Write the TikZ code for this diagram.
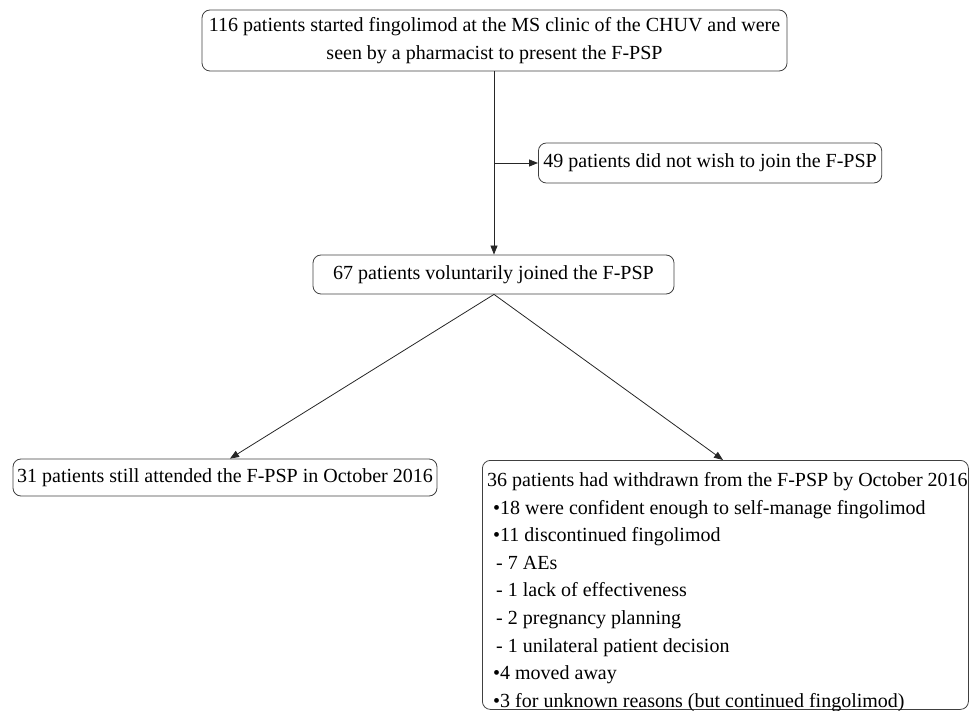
\documentclass[tikz,border=0pt]{standalone}
\usepackage{fontspec}
\setmainfont{Liberation Serif}
\usetikzlibrary{arrows.meta}
\begin{document}
\begin{tikzpicture}[x=1pt,y=1pt,
  box/.style={draw=black!75, line width=0.8pt, rounded corners=8pt, inner sep=0pt},
  txt/.style={font=\fontsize{20}{27.6}\selectfont, text=black},
  conn/.style={draw=black!85, line width=0.8pt, -{Triangle[length=9pt,width=7pt]}},
  plainline/.style={draw=black!85, line width=0.8pt}]
\useasboundingbox (0,0) rectangle (976,710);
% top box
\node[box, txt, minimum width=585pt, minimum height=61pt, align=center] (top) at (494.5,669.5)
  {116 patients started fingolimod at the MS clinic of the CHUV and were\\seen by a pharmacist to present the F-PSP};
% side box
\node[box, txt, anchor=west, minimum height=40pt, inner xsep=5pt] (side) at (538,547)
  {49 patients did not wish to join the F-PSP};
% middle box
\node[box, txt, minimum width=361pt, minimum height=39pt] (mid) at (493.5,435.5)
  {67 patients voluntarily joined the F-PSP};
% bottom left box
\node[box, txt, minimum width=424pt, minimum height=37pt] (left) at (225,232.5)
  {31 patients still attended the F-PSP in October 2016};
% bottom right box
\node[box, anchor=north west, minimum width=486pt, minimum height=249pt] (right) at (482,250) {};
\node[txt, anchor=north west, inner sep=0pt, align=left] (righttext) at (487,237.7)
  {36 patients had withdrawn from the F-PSP by October 2016\\
   \hspace*{6pt}{\textbullet}18 were confident enough to self-manage fingolimod\\
   \hspace*{6pt}{\textbullet}11 discontinued fingolimod\\
   \hspace*{9pt}- 7 AEs\\
   \hspace*{9pt}- 1 lack of effectiveness\\
   \hspace*{9pt}- 2 pregnancy planning\\
   \hspace*{9pt}- 1 unilateral patient decision\\
   \hspace*{6pt}{\textbullet}4 moved away\\
   \hspace*{6pt}{\textbullet}3 for unknown reasons (but continued fingolimod)};
% connectors
\coordinate (jn) at (top.south -| 494,0);
\coordinate (br) at (494,547);
\draw[conn] (top.south -| jn) -- (mid.north -| jn);
\draw[conn] (br) -- (side.west);
\coordinate (split) at (mid.south -| jn);
\draw[conn] (split) -- (left.north -| 230,0);
\draw[conn] (split) -- (right.north -| 723,0);
\end{tikzpicture}
\end{document}
